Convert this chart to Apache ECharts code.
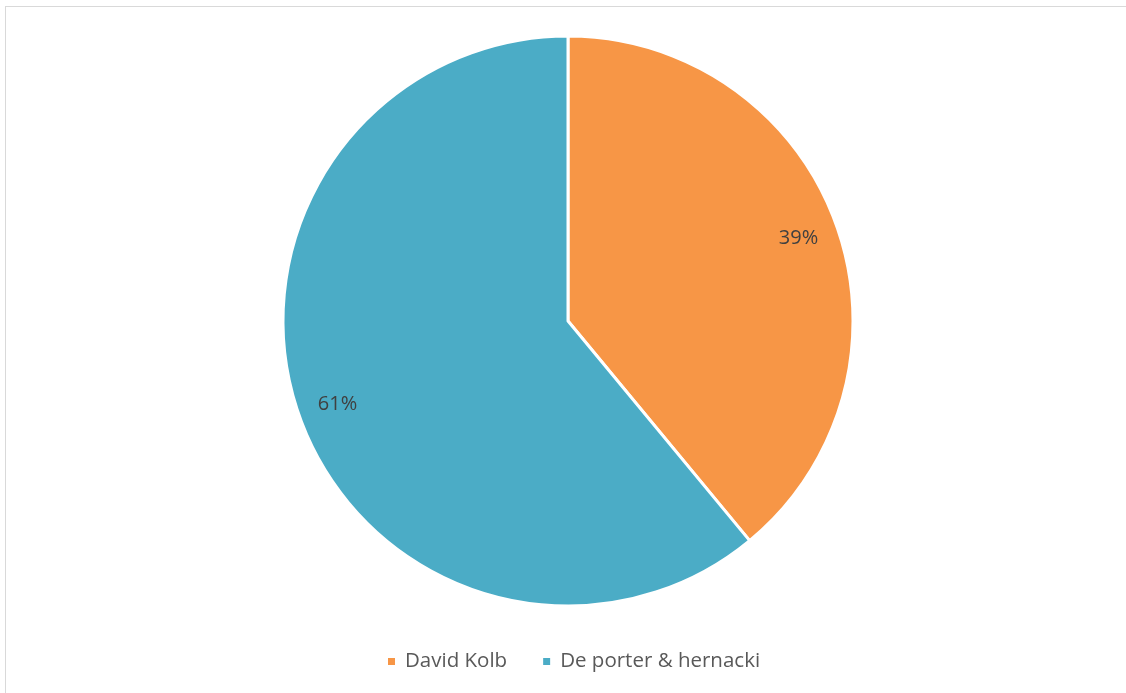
<!DOCTYPE html>
<html>
<head>
<meta charset="utf-8">
<script src="https://cdn.jsdelivr.net/npm/echarts@6/dist/echarts.min.js"></script>
<style>
html,body{margin:0;padding:0;background:#fff;overflow:hidden;}
#frame{position:absolute;left:5px;top:6px;width:1130px;height:700px;border:1px solid #d9d9d9;box-sizing:border-box;}
#chart{position:absolute;left:0;top:0;width:1126px;height:693px;}
</style>
</head>
<body>
<div id="frame"></div>
<div id="chart"></div>
<script>
var categories = ['David Kolb', 'De porter & hernacki'];
var values = [39, 61];
var colors = ['#F79646', '#4BACC6'];

var chart = echarts.init(document.getElementById('chart'), null, {renderer: 'canvas'});
var data = categories.map(function (c, i) {
  return {name: c, value: values[i], itemStyle: {color: colors[i]}};
});
var labelData = categories.map(function (c, i) {
  return {name: c, value: values[i]};
});
chart.setOption({
  animation: false,
  backgroundColor: 'transparent',
  legend: {
    data: categories,
    left: 381,
    top: 646,
    icon: 'rect',
    itemWidth: 9,
    itemHeight: 9,
    itemGap: 34,
    textStyle: {color: '#595959', fontSize: 20.5, fontFamily: 'Open Sans', padding: [0, 0, 0, 4]}
  },
  series: [
    {
      type: 'pie',
      center: [568, 321],
      radius: [0, 285],
      startAngle: 90,
      clockwise: true,
      label: {show: false},
      labelLine: {show: false},
      itemStyle: {borderColor: '#ffffff', borderWidth: 3},
      data: data
    },
    {
      type: 'pie',
      center: [568, 321],
      radius: [196, 288],
      startAngle: 90,
      clockwise: true,
      silent: true,
      legendHoverLink: false,
      itemStyle: {color: 'rgba(0,0,0,0)'},
      label: {
        show: true,
        position: 'inside',
        formatter: function (p) { return p.value + '%'; },
        color: '#404040',
        fontSize: 20,
        fontFamily: 'Open Sans'
      },
      labelLine: {show: false},
      data: labelData
    }
  ]
});
</script>
</body>
</html>
